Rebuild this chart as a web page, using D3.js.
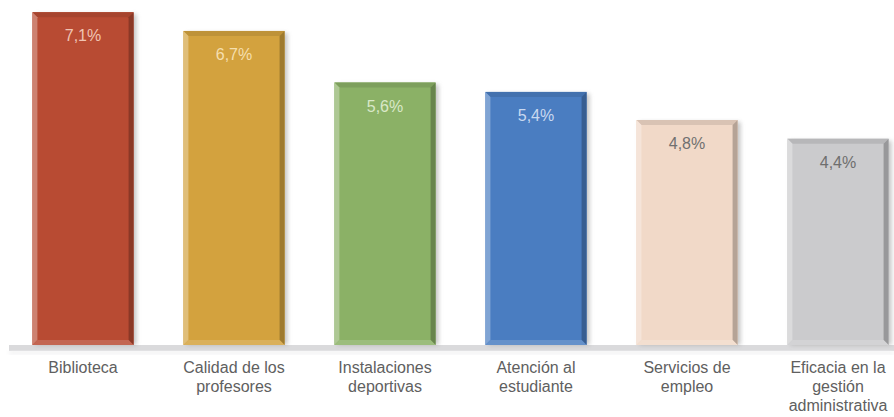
<!DOCTYPE html>
<html><head><meta charset="utf-8">
<script src="https://cdn.jsdelivr.net/npm/d3@7"></script>
<style>html,body{margin:0;padding:0;background:#fff;}svg{display:block;}</style>
</head><body>
<svg id="c" width="894" height="417"></svg>
<script>
const categories = [["Biblioteca"],["Calidad de los","profesores"],["Instalaciones","deportivas"],["Atención al","estudiante"],["Servicios de","empleo"],["Eficacia en la","gestión","administrativa"]];
const values = [7.1, 6.7, 5.6, 5.4, 4.8, 4.4];
const valueLabels = ["7,1%","6,7%","5,6%","5,4%","4,8%","4,4%"];
const colors = ["#B84B33","#D3A23E","#8BB166","#4A7DC1","#F1D9C8","#CBCBCD"];
const labelColors = ["#F0C4B3","#F5DFAE","#D9E8C8","#C9D9F0","#707070","#6E6E6E"];

const svg = d3.select("#c");
const idx = d3.range(values.length);
const x = d3.scaleBand().domain(idx).range([7.5, 913.5]).paddingInner(0.33).paddingOuter(0.165);
const y = d3.scaleLinear().domain([0, 7.36]).range([345, 0]);

const defs = svg.append("defs");
defs.append("filter").attr("id","sh").attr("x","-20%").attr("y","-20%").attr("width","140%").attr("height","140%")
  .append("feGaussianBlur").attr("stdDeviation",2.2);

// axis line
svg.append("rect").attr("x",9).attr("y",y(0)).attr("width",894-9).attr("height",6).attr("fill","#DADADC");
svg.append("rect").attr("x",9).attr("y",y(0)+6).attr("width",894-9).attr("height",3).attr("fill","#EEEEEF").attr("filter","url(#sh)");

const g = svg.append("g").selectAll("g").data(idx).join("g");
const b = 5;
const mix = (a, bb, t) => d3.color(d3.interpolateRgb(a, bb)(t)).formatHex();
g.each(function(i){
  const s = d3.select(this);
  const x0 = x(i), w = x.bandwidth(), y0 = y(values[i]), y1 = y(0), h = y1 - y0;
  const c = colors[i];
  // shadow
  s.append("rect").attr("x",x0+3).attr("y",y0+2).attr("width",w).attr("height",h-2)
    .attr("fill","#9a9a9a").attr("opacity",0.55).attr("filter","url(#sh)");
  s.append("rect").attr("x",x0).attr("y",y0).attr("width",w).attr("height",h).attr("fill",c);
  const X1 = x0 + w;
  const poly = pts => pts.map(p=>p.join(",")).join(" ");
  s.append("polygon").attr("points",poly([[x0,y0],[X1,y0],[X1-b,y0+b],[x0+b,y0+b]]))
    .attr("fill", mix(c, "#000", 0.1));
  s.append("polygon").attr("points",poly([[x0,y0],[x0+b,y0+b],[x0+b,y1-b],[x0,y1]]))
    .attr("fill", mix(c, "#fff", 0.3));
  s.append("polygon").attr("points",poly([[X1,y0],[X1,y1],[X1-b,y1-b],[X1-b,y0+b]]))
    .attr("fill", mix(c, "#000", 0.25));
  s.append("polygon").attr("points",poly([[x0,y1],[x0+b,y1-b],[X1-b,y1-b],[X1,y1]]))
    .attr("fill", mix(c, "#fff", 0.15));
  s.append("text").attr("x",x0+w/2).attr("y",y0+29).attr("text-anchor","middle")
    .attr("font-family","Liberation Sans, Arial, sans-serif").attr("font-size",16)
    .attr("fill",labelColors[i]).text(valueLabels[i]);
  const t = s.append("text").attr("text-anchor","middle")
    .attr("font-family","Liberation Sans, Arial, sans-serif").attr("font-size",16).attr("fill","#606060");
  categories[i].forEach((ln,k)=>{
    t.append("tspan").attr("x",x0+w/2).attr("y",373+k*19).text(ln);
  });
});
</script>
</body></html>
